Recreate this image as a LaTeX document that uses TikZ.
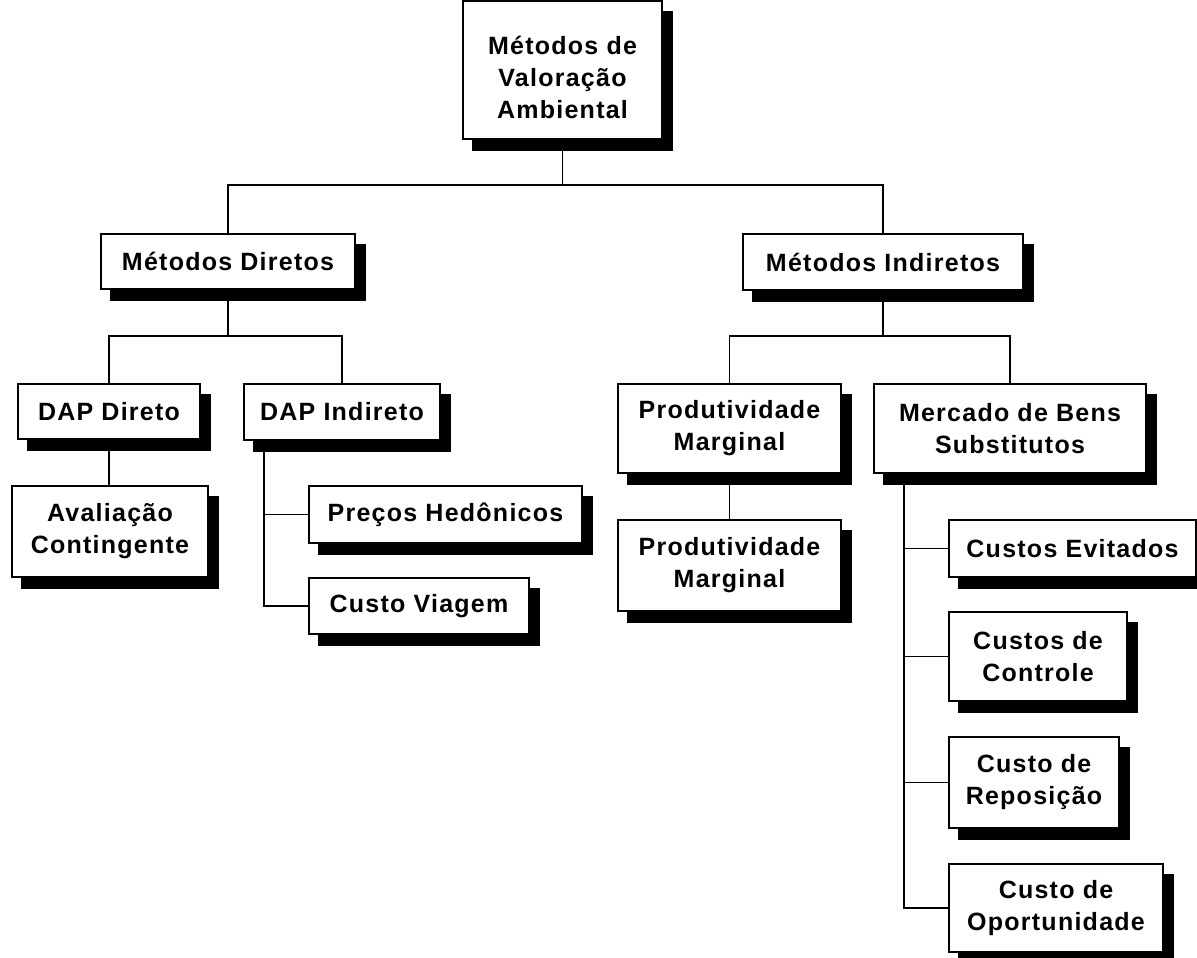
\documentclass[tikz,border=0pt]{standalone}
\usepackage{fontspec}
\setmainfont{Liberation Sans}[LetterSpace=5]
\usetikzlibrary{shadows}

\tikzset{
    caixa/.style={draw, fill=white, line width=1.9pt, align=center, inner sep=0pt,
        font=\fontsize{25}{32}\selectfont\bfseries,
        copy shadow={shadow xshift=10pt, shadow yshift=-11pt, fill=black, draw=black}},
    ligacao/.style={line width=1.9pt}
}

\begin{document}
\begin{tikzpicture}[x=1pt,y=-1pt]
    \useasboundingbox (0,0) rectangle (1197,958);

    % Root
    \node[caixa, minimum width=199pt, minimum height=138pt] (raiz) at (562.5,70) {\rule{0pt}{33pt}Métodos de\\Valoração\\Ambiental};

    % Direct and indirect methods
    \node[caixa, minimum width=254pt, minimum height=55pt] (diretos) at (228,261.5) {Métodos Diretos};
    \node[caixa, minimum width=280pt, minimum height=56pt] (indiretos) at (883,262) {Métodos Indiretos};

    % DAP
    \node[caixa, minimum width=182pt, minimum height=55pt] (dapdir) at (109,411.5) {DAP Direto};
    \node[caixa, minimum width=196pt, minimum height=56pt] (dapind) at (342,412) {DAP Indireto};
    \node[caixa, minimum width=196pt, minimum height=91pt] (aval) at (110,531.5) {Avaliação\\Contingente};
    \node[caixa, minimum width=273pt, minimum height=57pt] (precos) at (445.5,514.5) {Preços Hedônicos};
    \node[caixa, minimum width=220pt, minimum height=56pt] (viagem) at (419,606) {Custo Viagem};

    % Productivity
    \node[caixa, minimum width=223pt, minimum height=89pt] (prod1) at (729.5,428.5) {Produtividade\\Marginal};
    \node[caixa, minimum width=223pt, minimum height=91pt] (prod2) at (729.5,565.5) {Produtividade\\Marginal};

    % Substitute goods
    \node[caixa, minimum width=272pt, minimum height=89pt] (mercado) at (1010,428.5) {Mercado de Bens\\Substitutos};
    \node[caixa, minimum width=247pt, minimum height=57pt] (evitados) at (1072.5,548.5) {Custos Evitados};
    \node[caixa, minimum width=178pt, minimum height=89pt] (controle) at (1038,656.5) {Custos de\\Controle};
    \node[caixa, minimum width=170pt, minimum height=91pt] (reposicao) at (1034,782.5) {Custo de\\Reposição};
    \node[caixa, minimum width=214pt, minimum height=88pt] (oportunidade) at (1056,908) {Custo de\\Oportunidade};

    % Bus points
    \coordinate (b1) at (562.5,185);
    \coordinate (b2) at (228,336);
    \coordinate (b3) at (883,336);

    % Connectors
    \draw[ligacao] (raiz.south) -- (b1);
    \draw[ligacao] (diretos.north) |- (b1) -| (indiretos.north);

    \draw[ligacao] (diretos.south) -- (b2);
    \draw[ligacao] (dapdir.north) |- (b2) -| (dapind.north);
    \draw[ligacao] (dapdir.south) -- (aval.north -| dapdir.south);
    \draw[ligacao] ([xshift=-78pt]dapind.south) |- (precos.west);
    \draw[ligacao] ([xshift=-78pt]dapind.south) |- (viagem.west);

    \draw[ligacao] (indiretos.south) -- (b3);
    \draw[ligacao] (prod1.north) |- (b3) -| (mercado.north);
    \draw[ligacao] (prod1.south) -- (prod2.north);

    \draw[ligacao] ([xshift=-106pt]mercado.south) |- (evitados.west);
    \draw[ligacao] ([xshift=-106pt]mercado.south) |- (controle.west);
    \draw[ligacao] ([xshift=-106pt]mercado.south) |- (reposicao.west);
    \draw[ligacao] ([xshift=-106pt]mercado.south) |- (oportunidade.west);

\end{tikzpicture}
\end{document}
